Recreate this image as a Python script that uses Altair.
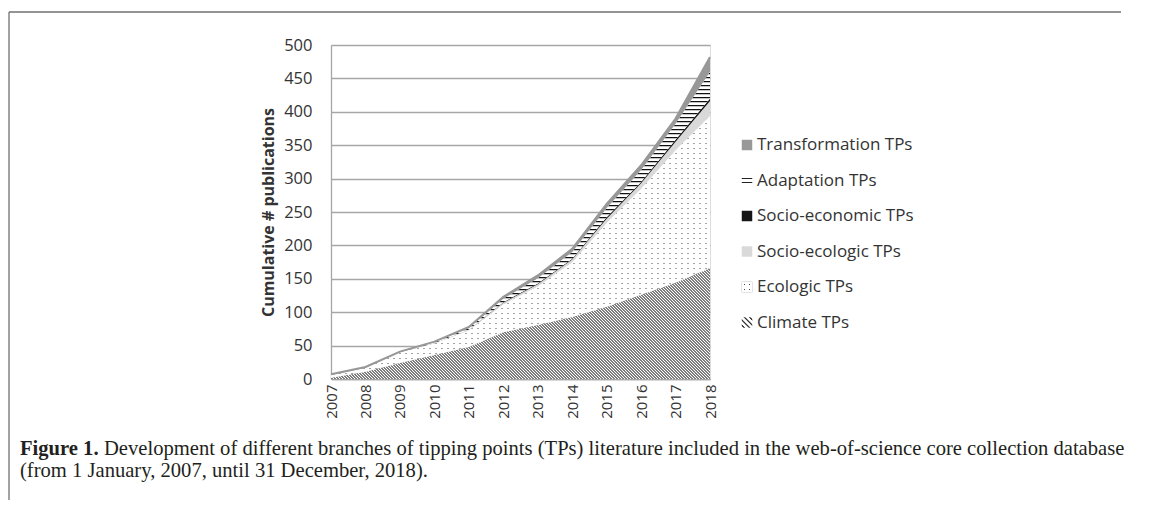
import math
import altair as alt
import pandas as pd

# ---------------- data ----------------
years = list(range(2007, 2019))
series = ["Climate TPs", "Ecologic TPs", "Socio-ecologic TPs",
          "Socio-economic TPs", "Adaptation TPs", "Transformation TPs"]
climate = [2, 11, 24, 36, 48, 70, 81, 93, 108, 126, 144, 166]
ecologic = [4, 6, 16, 17, 25, 42, 58, 82, 126, 159, 199, 228]
socio_ecologic = [0, 0, 0, 1, 1, 2, 3, 4, 6, 8, 12, 22]
socio_economic = [0, 0, 0, 0, 0, 1, 1, 1, 2, 2, 3, 4]
adaptation = [0, 0, 0, 1, 2, 5, 8, 10, 14, 18, 24, 40]
transformation = [1, 1, 1, 1, 2, 3, 4, 5, 6, 7, 8, 22]
y_ticks = list(range(0, 501, 50))
legend_order = ["Transformation TPs", "Adaptation TPs", "Socio-economic TPs",
                "Socio-ecologic TPs", "Ecologic TPs", "Climate TPs"]
caption_bold = "Figure 1."
caption_1 = ("Development of different branches of tipping points (TPs) literature "
             "included in the web-of-science core collection database")
caption_2 = "(from 1 January, 2007, until 31 December, 2018)."

values = [climate, ecologic, socio_ecologic, socio_economic, adaptation, transformation]

# stacked table
rows = []
base = [0] * len(years)
for name, vals in zip(series, values):
    for i, yr in enumerate(years):
        rows.append({"year": yr, "series": name, "y0": base[i], "y1": base[i] + vals[i]})
    base = [b + v for b, v in zip(base, vals)]
df = pd.DataFrame(rows)

W, H = 379, 334
YMAX = 500
PX = H / YMAX
WHITE = "#ffffff"
CLEAR = "rgba(255,255,255,0)"
FONT = "Open Sans"
SERIF = "Liberation Serif"


def soft_stripes(n, w, s, ink, paper, x1, y1, x2, y2):
    """n stripes; ink plateau w and ramps s (fractions of one period)."""
    stops = []
    for k in range(n):
        pts = [(0.0, paper), (0.5 - w / 2 - s, paper), (0.5 - w / 2, ink),
               (0.5 + w / 2, ink), (0.5 + w / 2 + s, paper), (1.0, paper)]
        for f, col in pts:
            stops.append(alt.GradientStop(offset=round((k + f) / n, 6), color=col))
    return alt.Gradient(gradient="linear", stops=stops, x1=x1, y1=y1,
                        x2=round(x2, 6), y2=round(y2, 6))


def bbox_h(name):
    s = df[df.series == name]
    return max((s.y1.max() - s.y0.min()) * PX, 1.0)


# climate: diagonal "\\" hatch, 3 px horizontal period at 45 degrees
Hc = bbox_h("Climate TPs")
span = (W + Hc) / math.sqrt(2)
n_c = math.ceil((W + Hc) / 3.0)
kc = (W + Hc) / (W ** 2 + Hc ** 2) * (n_c * 3.0 / math.sqrt(2)) / span
climate_fill = soft_stripes(n_c, 0.2, 0.18, "#333333", WHITE, 0, 1, W * kc, 1 - Hc * kc)

# ecologic: dots = dark base + two white grids with narrow clear gaps
He = bbox_h("Ecologic TPs")
pc, pr = 6.0, 5.0
n_col = math.ceil(W / pc)
n_row = math.ceil(He / pr)
eco_cols = soft_stripes(n_col, 0.6 / pc, 0.4 / pc, CLEAR, WHITE, 0, 0, n_col * pc / W, 0)
eco_rows = soft_stripes(n_row, 0.6 / pr, 0.4 / pr, CLEAR, WHITE, 0, 0, 0, n_row * pr / He)

# adaptation: horizontal hatch, 4 px period
Ha = bbox_h("Adaptation TPs")
n_a = math.ceil(Ha / 4.0)
adapt_fill = soft_stripes(n_a, 0.3, 0.06, "#111111", WHITE, 0, 0, 0, n_a * 4.0 / Ha)

xs = alt.X("year:Q", scale=alt.Scale(domain=[2007, 2018], nice=False, zero=False),
           axis=alt.Axis(values=years, format="d", labelAngle=-90, ticks=False,
                         grid=False, domainColor="#a6a6a6", domainWidth=1.3,
                         labelFont=FONT, labelFontSize=15, labelColor="#333333",
                         labelPadding=5, title=None))
ys = alt.Y("y1:Q", scale=alt.Scale(domain=[0, YMAX], nice=False),
           axis=alt.Axis(values=y_ticks, ticks=False, grid=True, gridColor="#a6a6a6",
                         gridWidth=1.3, domainColor="#a6a6a6", domainWidth=1.3,
                         labelFont=FONT, labelFontSize=16.5, labelColor="#333333",
                         labelPadding=19, title="Cumulative # publications",
                         titleFont=FONT, titleFontSize=16, titleFontWeight="bold",
                         titleColor="#333333", titlePadding=7))

chart_base = alt.Chart(df)


def area(name, fill):
    return chart_base.transform_filter(alt.datum.series == name).mark_area(
        fill=fill, opacity=1, strokeWidth=0, interpolate="linear"
    ).encode(x=xs, y=ys, y2="y0:Q")


layers = [
    area("Climate TPs", climate_fill),
    area("Ecologic TPs", "#4a4a4a"),
    area("Ecologic TPs", eco_cols),
    area("Ecologic TPs", eco_rows),
    area("Socio-ecologic TPs", "#d9d9d9"),
    area("Socio-economic TPs", "#151515"),
    area("Adaptation TPs", adapt_fill),
    area("Transformation TPs", "#989898"),
    chart_base.transform_filter(alt.datum.series == "Transformation TPs").mark_line(
        color="#989898", strokeWidth=2).encode(x=xs, y=ys),
]

# ---------------- legend (drawn as marks) ----------------
LEG_X, LEG_Y0, LEG_DY = 416, 100, 35.5
adapt_leg = alt.Gradient(gradient="linear", x1=0, y1=0, x2=0, y2=1, stops=[
    alt.GradientStop(offset=0, color=WHITE), alt.GradientStop(offset=0.22, color=WHITE),
    alt.GradientStop(offset=0.22, color="#222222"), alt.GradientStop(offset=0.38, color="#222222"),
    alt.GradientStop(offset=0.38, color=WHITE), alt.GradientStop(offset=0.62, color=WHITE),
    alt.GradientStop(offset=0.62, color="#222222"), alt.GradientStop(offset=0.78, color="#222222"),
    alt.GradientStop(offset=0.78, color=WHITE), alt.GradientStop(offset=1, color=WHITE)])
leg_sym = {
    "Transformation TPs": ["#989898"],
    "Adaptation TPs": [adapt_leg],
    "Socio-economic TPs": ["#151515"],
    "Socio-ecologic TPs": ["#d9d9d9"],
    "Ecologic TPs": ["#4a4a4a", soft_stripes(2, 0.08, 0.08, CLEAR, WHITE, 0, 0, 1, 0),
                     soft_stripes(2, 0.08, 0.08, CLEAR, WHITE, 0, 0, 0, 1)],
    "Climate TPs": [soft_stripes(4, 0.2, 0.15, "#333333", WHITE, 0, 1, 1, 0)],
}
for i, lab in enumerate(legend_order):
    ld = alt.Chart(pd.DataFrame({"label": [lab]}))
    yy = LEG_Y0 + LEG_DY * i
    for f in leg_sym[lab]:
        layers.append(ld.mark_square(size=110, fill=f, opacity=1, strokeWidth=0).encode(
            x=alt.value(LEG_X), y=alt.value(yy)))
    layers.append(ld.mark_text(align="left", baseline="middle", font=FONT, fontSize=17,
                               color="#333333").encode(
        text="label:N", x=alt.value(LEG_X + 10), y=alt.value(yy)))

# ---------------- caption & frame ----------------
CAP_SIZE = 20.6
cap = alt.Chart(pd.DataFrame({"t": [caption_bold, caption_1, caption_2],
                              "k": ["b", "1", "2"]}))
layers.append(cap.transform_filter(alt.datum.k == "b").mark_text(
    align="left", baseline="middle", font=SERIF, fontSize=CAP_SIZE,
    fontWeight="bold", color="#231f20").encode(text="t:N", x=alt.value(-311), y=alt.value(404)))
layers.append(cap.transform_filter(alt.datum.k == "1").mark_text(
    align="left", baseline="middle", font=SERIF, fontSize=CAP_SIZE,
    color="#231f20").encode(text="t:N", x=alt.value(-227), y=alt.value(404)))
layers.append(cap.transform_filter(alt.datum.k == "2").mark_text(
    align="left", baseline="middle", font=SERIF, fontSize=CAP_SIZE,
    color="#231f20").encode(text="t:N", x=alt.value(-311), y=alt.value(426)))

# frame: thin grey lines along the top and the left of the figure
frame_top = alt.Chart(pd.DataFrame({"f": [0]})).mark_rule(
    color="#707070", strokeWidth=1.3).encode(
    x=alt.value(-322), x2=alt.value(790), y=alt.value(-33), y2=alt.value(-33))
frame_left = alt.Chart(pd.DataFrame({"f": [0]})).mark_rule(
    color="#707070", strokeWidth=1.3).encode(
    x=alt.value(-322), x2=alt.value(-322), y=alt.value(-33), y2=alt.value(455))
layers.insert(0, frame_top)
layers.insert(0, frame_left)

chart = alt.layer(*layers).properties(
    width=W, height=H,
    padding={"left": 323, "top": 37, "right": 435, "bottom": 122},
    autosize=alt.AutoSizeParams(type="none"),
).configure_view(stroke=None).configure(background="white")

chart.save("out.html", embed_options={"renderer": "svg", "actions": False})
